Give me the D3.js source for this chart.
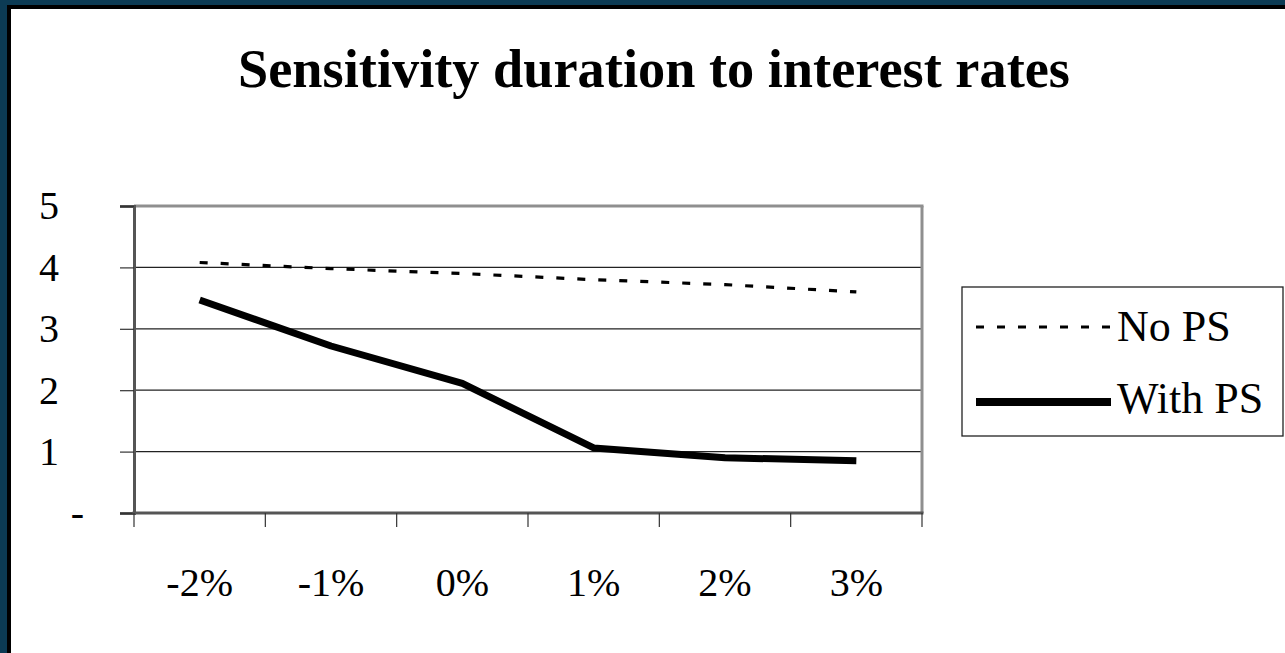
<!DOCTYPE html>
<html>
<head>
<meta charset="utf-8">
<script src="https://cdn.jsdelivr.net/npm/d3@7"></script>
<style>
  html, body { margin: 0; padding: 0; background: #0c3b54; }
  svg { display: block; }
  text { font-family: "Liberation Serif", "Times New Roman", serif; fill: #000; }
</style>
</head>
<body>
<svg id="chart" width="1285" height="653"></svg>
<script>
// Rate shift scenarios along the x axis
const categories = ["-2%", "-1%", "0%", "1%", "2%", "3%"];
// Duration without prepayment
const noPS = [4.08, 3.98, 3.90, 3.80, 3.72, 3.60];
// Duration with prepayment
const withPS = [3.47, 2.72, 2.11, 1.06, 0.90, 0.85];
// Value axis ticks and their printed labels
const yTicks = [0, 1, 2, 3, 4, 5];
const yTickLabels = ["-", "1", "2", "3", "4", "5"];
const seriesNames = ["No PS", "With PS"];
const titleText = "Sensitivity duration to interest rates";

const svg = d3.select("#chart");

// Slide frame: dark backdrop, black edge, white sheet
svg.append("rect").attr("x", 0).attr("y", 0).attr("width", 1285).attr("height", 653).attr("fill", "#0c3b54");
svg.append("rect").attr("x", 7).attr("y", 5).attr("width", 1278).attr("height", 648).attr("fill", "#000");
svg.append("rect").attr("x", 11).attr("y", 9).attr("width", 1274).attr("height", 644).attr("fill", "#fff");

const plot = { left: 134, right: 922, top: 206, bottom: 513 };

const x = d3.scaleBand().domain(categories).range([plot.left, plot.right]).padding(0);
const xc = d => x(d) + x.bandwidth() / 2;
const y = d3.scaleLinear().domain([0, 5]).range([plot.bottom, plot.top]);

// Title
svg.append("text")
  .attr("x", 654).attr("y", 87)
  .attr("text-anchor", "middle")
  .attr("font-size", 54).attr("font-weight", "bold")
  .attr("textLength", 832).attr("lengthAdjust", "spacingAndGlyphs")
  .text(titleText);

// Horizontal gridlines
svg.append("g").selectAll("line")
  .data(yTicks.filter(v => v > 0 && v < 5))
  .join("line")
  .attr("x1", plot.left).attr("x2", plot.right)
  .attr("y1", d => y(d)).attr("y2", d => y(d))
  .attr("stroke", "#222").attr("stroke-width", 1.2);

// Plot area frame: gray top and right edges
svg.append("line").attr("x1", plot.left).attr("x2", plot.right + 1.5)
  .attr("y1", plot.top).attr("y2", plot.top)
  .attr("stroke", "#8f8f8f").attr("stroke-width", 3);
svg.append("line").attr("x1", plot.right).attr("x2", plot.right)
  .attr("y1", plot.top).attr("y2", plot.bottom)
  .attr("stroke", "#8f8f8f").attr("stroke-width", 3);

// Value axis
const yAxis = d3.axisLeft(y)
  .tickValues(yTicks)
  .tickSize(14)
  .tickPadding(61)
  .tickFormat((d, i) => yTickLabels[i]);
const gy = svg.append("g").attr("transform", `translate(${plot.left},0)`).call(yAxis);
gy.select(".domain").attr("stroke", "#555").attr("stroke-width", 3);
gy.selectAll(".tick line").attr("stroke", "#333").attr("stroke-width", 1.2);
gy.selectAll(".tick text")
  .attr("font-size", 40)
  .attr("font-family", "Liberation Serif, Times New Roman, serif")
  .attr("fill", "#000")
  .attr("x", (d, i) => yTickLabels[i] === "-" ? -50 : -75);

// Category axis with ticks at band edges
const xEdges = d3.scaleLinear().domain([0, categories.length]).range([plot.left, plot.right]);
const gx = svg.append("g");
gx.append("line").attr("x1", plot.left - 1.5).attr("x2", plot.right + 1.5)
  .attr("y1", plot.bottom).attr("y2", plot.bottom)
  .attr("stroke", "#555").attr("stroke-width", 3);
gx.selectAll("line.tk").data(d3.range(categories.length + 1)).join("line")
  .attr("class", "tk")
  .attr("x1", d => xEdges(d)).attr("x2", d => xEdges(d))
  .attr("y1", plot.bottom).attr("y2", plot.bottom + 14)
  .attr("stroke", "#333").attr("stroke-width", 1.2);
gx.selectAll("text").data(categories).join("text")
  .attr("x", d => xc(d)).attr("y", 596)
  .attr("text-anchor", "middle")
  .attr("font-size", 40)
  .text(d => d);

// Series lines
const line = d3.line().x((d, i) => xc(categories[i])).y(d => y(d));

svg.append("path").datum(noPS)
  .attr("d", line)
  .attr("fill", "none").attr("stroke", "#000")
  .attr("stroke-width", 3.2).attr("stroke-dasharray", "8,13");

svg.append("path").datum(withPS)
  .attr("d", line)
  .attr("fill", "none").attr("stroke", "#000")
  .attr("stroke-width", 7).attr("stroke-linejoin", "bevel");

// Legend
const lg = svg.append("g");
lg.append("rect").attr("x", 962).attr("y", 287).attr("width", 321).attr("height", 149)
  .attr("fill", "#fff").attr("stroke", "#222").attr("stroke-width", 1.3);
const legendRows = [
  { name: seriesNames[0], y: 327, width: 3.2, dash: "8,13", textY: 341 },
  { name: seriesNames[1], y: 402, width: 8, dash: null, textY: 413 }
];
legendRows.forEach(r => {
  lg.append("line").attr("x1", 976).attr("x2", 1111)
    .attr("y1", r.y).attr("y2", r.y)
    .attr("stroke", "#000").attr("stroke-width", r.width)
    .attr("stroke-dasharray", r.dash);
  lg.append("text").attr("x", 1117).attr("y", r.textY)
    .attr("font-size", 44).text(r.name);
});
</script>
</body>
</html>
